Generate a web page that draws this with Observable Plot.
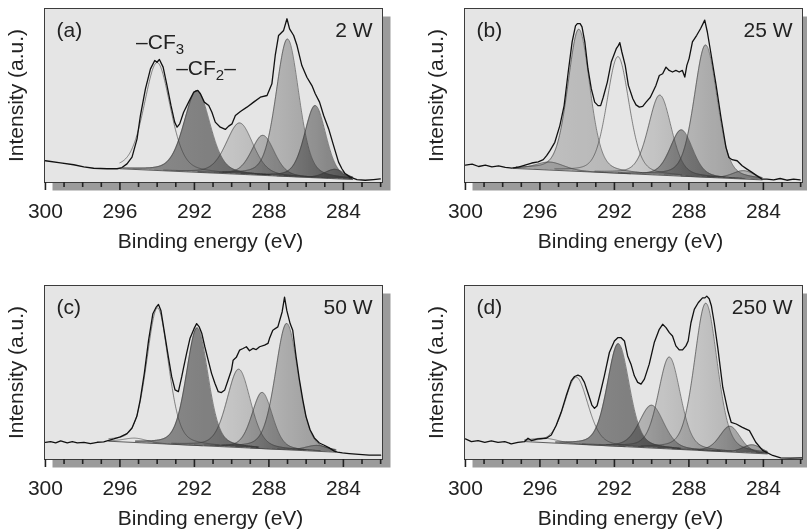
<!DOCTYPE html>
<html><head><meta charset="utf-8">
<script src="https://cdn.jsdelivr.net/npm/d3@7"></script>
<script src="https://cdn.jsdelivr.net/npm/@observablehq/plot@0.6"></script>
<style>
body{margin:0;background:#fff;}
#wrap{position:relative;width:807px;height:531px;overflow:hidden;background:#fff;}
#wrap svg{position:absolute;}
</style></head><body><div id="wrap"></div>
<script>
// ---- shared labels / ticks ----
const xMajorTicks = [300, 296, 292, 288, 284];
const xMinorTicks = [299, 298, 297, 295, 294, 293, 291, 290, 289, 287, 286, 285, 283, 282];
const panelTags = ["(a)", "(b)", "(c)", "(d)"];
const powerTags = ["2 W", "25 W", "50 W", "250 W"];
const xLabel = "Binding energy (eV)";
const yLabel = "Intensity (a.u.)";
// Gaussian–Lorentzian mix used by the fitted components (GL30)
const lorentzFraction = 0.3;

// ---- panel (a) 2 W ----
const envA_E = [300.00,299.19,298.48,297.94,297.41,296.69,296.15,295.89,295.62,295.35,295.08,294.90,294.63,294.36,294.13,294.01,293.88,293.68,293.47,293.26,293.06,292.93,292.79,292.58,292.31,292.04,291.82,291.68,291.47,291.23,291.06,290.88,290.61,290.34,290.16,289.98,289.80,289.53,289.18,288.82,288.46,288.10,287.84,287.66,287.48,287.21,287.03,286.89,286.67,286.49,286.23,285.96,285.69,285.51,285.28,285.06,284.79,284.53,284.26,284.08,283.90,283.63,283.27,282.83,282.38,282.02];
const envA_I = [12.5,11.3,10.2,9.0,8.2,7.9,7.9,8.6,10.7,14.6,25.1,38.5,53.8,65.3,70.1,69.1,70.7,66.3,55.7,44.3,34.7,31.8,33.7,40.4,46.2,51.9,52.9,51.0,46.2,44.3,40.4,34.7,31.8,30.5,32.4,33.7,38.5,40.8,43.3,46.2,49.0,50.0,56.7,73.0,84.5,87.4,94.1,88.3,84.5,78.7,67.2,60.5,55.7,51.0,46.2,38.5,30.8,21.3,11.7,7.9,5.0,3.1,1.7,1.3,1.7,2.1];
const baseA_E = [296.0, 283.5];
const baseA_I = [7.9, 1.7];
const peakA_pos  = [294.0, 291.86, 289.57, 288.32, 287.0, 285.51, 284.44];
const peakA_amp  = [62, 47, 29.5, 23, 79, 41.5, 5.4];
const peakA_fwhm = [1.65, 1.65, 1.7, 1.45, 1.45, 1.35, 1.3];
const peakA_shade = ["none","dark","light","mid","mid","midDark","mid"];
const annoA_text = ["–CF_3", "–CF_2–"];
const annoA_E = [295.13, 292.98];
const annoA_I = [77, 61.5];

// ---- panel (b) 25 W ----
const envB_E = [300.00,299.64,299.29,298.93,298.58,298.22,297.86,297.51,297.15,296.80,296.44,296.09,295.82,295.64,295.46,295.20,294.93,294.70,294.48,294.27,294.09,293.99,293.84,293.74,293.59,293.42,293.24,293.06,292.88,292.74,292.60,292.38,292.17,291.90,291.78,291.71,291.60,291.42,291.25,291.01,290.84,290.66,290.48,290.30,290.07,289.77,289.59,289.41,289.23,289.06,288.88,288.70,288.52,288.35,288.22,288.11,287.99,287.81,287.58,287.37,287.15,287.01,286.83,286.55,286.28,286.01,285.85,285.68,285.41,285.14,284.88,284.61,284.34,284.07,283.81,283.45,283.10,282.74,282.38,282.03];
const envB_I = [10.0,10.6,9.2,10.0,9.0,9.6,8.7,8.3,8.8,10.0,11.2,11.9,13.1,15.4,18.3,23.1,32.7,44.2,63.5,80.8,90.0,91.3,91.3,89.4,80.8,65.4,53.8,46.2,44.2,44.2,49.0,57.7,69.2,76.9,78.8,80.4,75.0,67.3,55.8,48.1,44.6,43.3,43.8,46.2,49.0,55.8,61.5,62.5,66.3,64.4,63.5,64.4,63.5,64.4,60.6,67.3,71.2,80.8,84.6,88.5,93.3,86.5,75.0,56.7,37.5,20.2,14.4,13.1,12.5,9.6,7.7,5.8,3.8,1.9,1.9,1.5,2.3,1.3,1.9,1.5];
const baseB_E = [297.42, 284.07];
const baseB_I = [8.1, 1.5];
const peakB_pos  = [295.46, 293.91, 291.81, 289.56, 288.40, 287.10, 285.05];
const peakB_amp  = [4.6, 81.7, 67, 46, 26.6, 76, 4.8];
const peakB_fwhm = [1.8, 1.4, 1.42, 1.45, 1.42, 1.45, 1.4];
const peakB_shade = ["grey","grey","none","light","midDark","mid","light"];

// ---- panel (c) 50 W ----
const envC_E = [300.00,299.72,299.45,299.18,298.83,298.56,298.29,297.93,297.58,297.22,296.87,296.60,296.33,295.98,295.62,295.35,295.09,294.91,294.69,294.46,294.23,294.05,293.93,293.80,293.63,293.40,293.22,293.04,292.86,292.68,292.59,292.42,292.24,292.02,291.88,291.74,291.60,291.44,291.26,291.08,290.90,290.72,290.55,290.37,290.19,290.01,289.92,289.75,289.57,289.39,289.21,289.04,288.86,288.68,288.50,288.23,288.05,287.97,287.79,287.52,287.29,287.16,287.04,286.86,286.72,286.54,286.36,286.18,286.01,285.79,285.56,285.29,285.03,284.76,284.49,284.32,284.05,283.69,283.16,282.62,282.00];
const envC_I = [9.9,10.3,9.5,10.7,9.5,10.3,9.5,9.9,9.1,9.9,10.1,11.0,11.8,13.0,14.9,18.1,24.8,34.3,49.5,68.6,83.8,87.6,89.1,85.7,74.3,59.0,47.6,40.0,39.0,47.6,52.4,61.0,69.5,75.2,78.1,76.2,72.4,64.8,57.1,49.5,43.8,39.0,38.5,40.0,45.7,51.4,57.1,58.7,62.9,63.8,64.8,62.5,63.8,63.2,64.8,65.7,66.7,69.5,74.3,76.2,84.8,93.3,85.7,78.1,74.3,59.0,45.7,34.3,24.8,17.1,12.4,9.5,8.2,6.7,4.8,4.2,3.8,3.4,2.9,2.5,2.5];
const baseC_E = [296.60, 284.40];
const baseC_I = [10.5, 4.2];
const peakC_pos  = [295.18, 293.98, 291.85, 289.62, 288.36, 287.04, 285.38];
const peakC_amp  = [2.5, 78, 67.6, 45, 32.3, 72.6, 3.4];
const peakC_fwhm = [1.5, 1.38, 1.38, 1.5, 1.3, 1.45, 1.5];
const peakC_shade = ["none","none","dark","light","mid","mid","light"];

// ---- panel (d) 250 W ----
const envD_E = [300.00,299.68,299.32,298.96,298.61,298.25,297.89,297.54,297.18,296.82,296.64,296.46,296.11,295.66,295.39,295.13,294.86,294.59,294.32,294.14,293.96,293.79,293.61,293.43,293.21,293.07,292.93,292.75,292.54,292.27,292.00,291.82,291.64,291.46,291.29,291.11,290.93,290.75,290.57,290.39,290.13,289.86,289.59,289.41,289.23,289.05,288.88,288.70,288.52,288.34,288.16,288.04,287.89,287.71,287.50,287.27,287.14,287.04,286.91,286.79,286.64,286.45,286.18,285.91,285.73,285.46,285.13,284.75,284.41,284.04,283.50,283.07,282.54,281.91];
const envD_I = [11.8,10.3,10.9,9.9,10.7,9.9,10.3,9.0,9.9,10.3,12.2,10.9,11.8,12.2,14.1,19.5,27.1,36.6,45.2,47.7,48.5,47.7,44.3,38.5,31.3,29.4,30.9,38.5,48.1,61.5,68.1,70.0,70.0,68.1,59.5,54.8,48.1,44.3,43.3,46.2,54.8,67.2,74.8,77.7,75.8,72.9,71.0,65.3,63.0,63.0,65.3,68.1,78.6,86.3,90.1,92.9,92.9,93.9,92.4,88.2,78.6,64.3,41.4,28.1,21.4,20.4,18.5,16.6,9.9,5.2,2.3,0.95,0.76,0.95];
const baseD_E = [296.82, 283.79];
const baseD_I = [10.3, 3.2];
const peakD_pos  = [295.75, 294.05, 291.79, 290.0, 289.05, 287.09, 285.79, 284.59];
const peakD_amp  = [2.5, 38.5, 59, 24.6, 52.8, 84.8, 14.8, 4.8];
const peakD_fwhm = [1.8, 1.5, 1.4, 1.55, 1.4, 1.45, 1.3, 1.2];
const peakD_shade = ["none","none","dark","mid","light","light","mid","mid"];

// ---- styles ----
const shadeStops = {
  dark: ["#9c9c9c", "#858585"],
  light: ["#f2f2f2", "#bdbdbd"],
  mid: ["#dedede", "#a8a8a8"],
  midDark: ["#c8c8c8", "#888888"],
  grey: ["#dadada", "#c8c8c8"]
};

const panels = [
  {envE: envA_E, envI: envA_I, baseE: baseA_E, baseI: baseA_I, pos: peakA_pos, amp: peakA_amp, fwhm: peakA_fwhm, shade: peakA_shade, anno: annoA_text.map((t, j) => ({t, e: annoA_E[j], v: annoA_I[j]}))},
  {envE: envB_E, envI: envB_I, baseE: baseB_E, baseI: baseB_I, pos: peakB_pos, amp: peakB_amp, fwhm: peakB_fwhm, shade: peakB_shade, anno: []},
  {envE: envC_E, envI: envC_I, baseE: baseC_E, baseI: baseC_I, pos: peakC_pos, amp: peakC_amp, fwhm: peakC_fwhm, shade: peakC_shade, anno: []},
  {envE: envD_E, envI: envD_I, baseE: baseD_E, baseI: baseD_I, pos: peakD_pos, amp: peakD_amp, fwhm: peakD_fwhm, shade: peakD_shade, anno: []}
];
const placement = [[0, 0], [420, 0], [0, 277], [420, 277]];

function subscripts(svg) {
  svg.querySelectorAll("text").forEach(t => {
    const s = t.textContent;
    if (!s.includes("_")) return;
    const parts = s.split(/_(\d)/);
    t.textContent = "";
    let sub = false;
    parts.forEach((part, i) => {
      const isSub = i % 2 === 1;
      if (!part) return;
      const ts = document.createElementNS("http://www.w3.org/2000/svg", "tspan");
      ts.textContent = part;
      if (isSub) { ts.setAttribute("font-size", "15"); ts.setAttribute("dy", "5"); sub = true; }
      else if (sub) { ts.setAttribute("dy", "-5"); sub = false; }
      t.appendChild(ts);
    });
  });
}

// fitted component profile from its (position, height, FWHM) parameters
function profile(e, c, w) {
  const u = (e - c) / w;
  return (1 - lorentzFraction) * Math.exp(-4 * Math.LN2 * u * u) + lorentzFraction / (1 + 4 * u * u);
}

function makePanel(p, idx) {
  const slope = (p.baseI[1] - p.baseI[0]) / (p.baseE[1] - p.baseE[0]);
  const base = e => p.baseI[0] + (e - p.baseE[0]) * slope;
  const eHi = p.baseE[0], eLo = p.baseE[1];
  const comps = p.pos.map((c, k) => {
    const w = p.fwhm[k], pts = [];
    const lo = Math.max(c - 2.4 * w, eLo), hi = Math.min(c + 2.4 * w, eHi);
    for (let e = lo; e <= hi + 1e-9; e += 0.02) {
      pts.push({e, b: base(e), t: base(e) + p.amp[k] * profile(e, c, w)});
    }
    return pts;
  });
  const env = p.envE.map((e, j) => ({e, v: p.envI[j]}));
  const baseline = p.baseE.map((e, j) => ({e, v: p.baseI[j]}));

  const marks = [
    Plot.frame({fill: "#9b9b9b", dx: 8, dy: 8}),
    Plot.frame({fill: "#e5e5e5"}),
    ...comps.map((pts, k) => p.shade[k] === "none" ? null :
      Plot.areaY(pts, {x: "e", y1: "b", y2: "t", fill: `url(#g${idx}_${p.shade[k]})`, mixBlendMode: "multiply"})).filter(Boolean),
    ...comps.map(pts => Plot.line(pts, {x: "e", y: "t", stroke: "#3a3a3a", strokeWidth: 0.6})),
    Plot.line(baseline, {x: "e", y: "v", stroke: "#3a3a3a", strokeWidth: 0.8}),
    Plot.line(env, {x: "e", y: "v", stroke: "#111", strokeWidth: 1.3}),
    Plot.frame({stroke: "#3c3c3c", strokeWidth: 1}),
    Plot.axisX(xMinorTicks, {tickSize: 5, tickFormat: () => "", stroke: "#222", strokeWidth: 1.6, label: null}),
    Plot.axisX(xMajorTicks, {tickSize: 8, tickPadding: 13, stroke: "#222", strokeWidth: 1.6, label: null}),
    Plot.text([xLabel], {text: d => d, frameAnchor: "bottom", dy: 65, dx: -3, lineAnchor: "bottom", textAnchor: "middle", fill: "#222"}),
    Plot.text([yLabel], {text: d => d, frameAnchor: "left", rotate: -90, dx: -28, textAnchor: "middle", lineAnchor: "middle", fill: "#222"}),
    Plot.text([panelTags[idx]], {text: d => d, frameAnchor: "top-left", dx: 12, dy: 28, lineAnchor: "bottom", textAnchor: "start", fill: "#222"}),
    Plot.text([powerTags[idx]], {text: d => d, frameAnchor: "top-right", dx: -10, dy: 28, lineAnchor: "bottom", textAnchor: "end", fill: "#222"}),
    Plot.text(p.anno, {x: "e", y: "v", text: "t", lineAnchor: "bottom", textAnchor: "start", fill: "#222"})
  ];

  const svg = Plot.plot({
    width: 400, height: 262,
    marginLeft: 44, marginRight: 18, marginTop: 8, marginBottom: 80,
    x: {domain: [300.05, 281.9], label: null},
    y: {domain: [0, 100], axis: null},
    style: {fontSize: "21px", fontFamily: "'Liberation Sans', Arial, sans-serif", color: "#222", background: "transparent", overflow: "visible"},
    marks
  });

  const defs = d3.select(svg).insert("defs", ":first-child");
  Object.entries(shadeStops).forEach(([name, [c0, c1]]) => {
    const g = defs.append("linearGradient").attr("id", `g${idx}_${name}`).attr("x1", 0).attr("x2", 1).attr("y1", 0).attr("y2", 0);
    g.append("stop").attr("offset", "0%").attr("stop-color", c0);
    g.append("stop").attr("offset", "100%").attr("stop-color", c1);
  });
  subscripts(svg);
  svg.style.left = placement[idx][0] + "px";
  svg.style.top = placement[idx][1] + "px";
  return svg;
}

const wrap = document.getElementById("wrap");
panels.forEach((p, i) => wrap.appendChild(makePanel(p, i)));
</script>
</body></html>
